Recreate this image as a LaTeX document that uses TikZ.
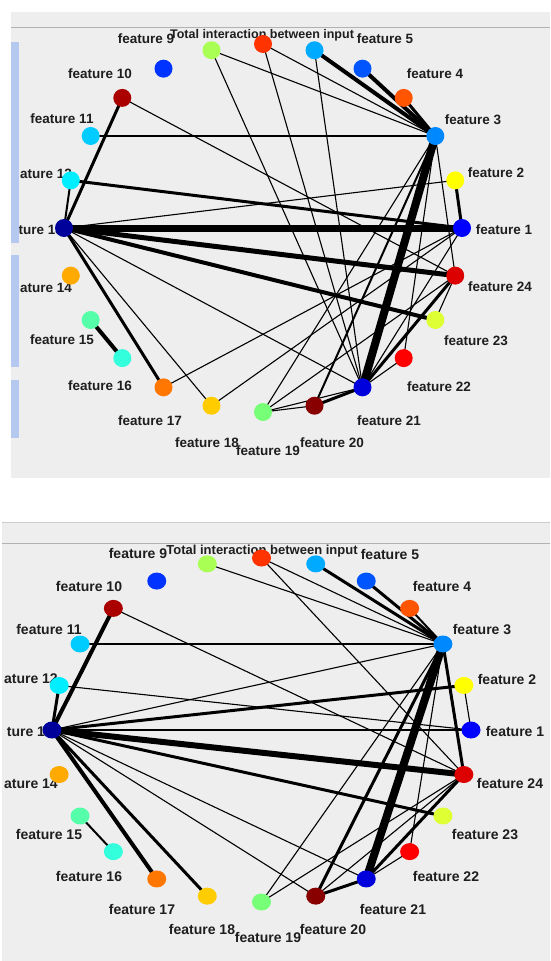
\documentclass[tikz,border=0pt]{standalone}
\usepackage{fontspec}
\setmainfont{Liberation Sans}
\usetikzlibrary{shapes.geometric}
\definecolor{c1}{HTML}{0000FF}
\definecolor{c2}{HTML}{FFFF00}
\definecolor{c3}{HTML}{0088FF}
\definecolor{c4}{HTML}{FF5500}
\definecolor{c5}{HTML}{0055FF}
\definecolor{c6}{HTML}{00AAFF}
\definecolor{c7}{HTML}{FF3300}
\definecolor{c8}{HTML}{AAFF55}
\definecolor{c9}{HTML}{0033FF}
\definecolor{c10}{HTML}{AA0000}
\definecolor{c11}{HTML}{00CCFF}
\definecolor{c12}{HTML}{00EEFF}
\definecolor{c13}{HTML}{00009A}
\definecolor{c14}{HTML}{FFAA00}
\definecolor{c15}{HTML}{55FFAA}
\definecolor{c16}{HTML}{33FFDD}
\definecolor{c17}{HTML}{FF7700}
\definecolor{c18}{HTML}{FFCC00}
\definecolor{c19}{HTML}{77FF77}
\definecolor{c20}{HTML}{880000}
\definecolor{c21}{HTML}{0000DD}
\definecolor{c22}{HTML}{FF0000}
\definecolor{c23}{HTML}{DDFF33}
\definecolor{c24}{HTML}{DD0000}
\definecolor{panelbg}{HTML}{EEEEEE}
\definecolor{barblue}{HTML}{B4C8F0}
\definecolor{txt}{HTML}{1E1E1E}
\begin{document}
\begin{tikzpicture}[x=1pt,y=-1pt,
  lbl/.style={text=txt,inner sep=0pt,anchor=base,font=\fontsize{13.5}{14}\selectfont\bfseries},
  lblb/.style={text=txt,inner sep=0pt,anchor=base,font=\fontsize{14}{15}\selectfont\bfseries},
  ttl/.style={text=txt,inner sep=0pt,anchor=base,font=\fontsize{12.5}{13}\selectfont\bfseries},
  ttlb/.style={text=txt,inner sep=0pt,anchor=base,font=\fontsize{13}{14}\selectfont\bfseries},
  dot/.style={circle,draw=none,minimum size=18pt,inner sep=0pt},
  bdot/.style={ellipse,draw=none,minimum width=19pt,minimum height=17pt,inner sep=0pt},
  e1/.style={line width=1.1pt},
  e2/.style={line width=2pt},
  e3/.style={line width=3pt},
  e4/.style={line width=4pt},
  e5/.style={line width=5pt},
  e6/.style={line width=6pt},
  e7/.style={line width=7pt},
  e8/.style={line width=8pt}]
\useasboundingbox (0,0) rectangle (550,961);
\fill[white] (0,0) rectangle (550,961);
% panels
\fill[panelbg] (11,12) rectangle (550,478);
\draw[gray!60,line width=1pt] (11,27) -- (550,27);
\fill[panelbg] (2,522) rectangle (550,961);
\draw[gray!40,line width=1pt] (2,522) -- (550,522);
\draw[gray!60,line width=1pt] (2,543) -- (550,543);
% ---------- top panel labels
\node[lbl] (ta9) at (146,43) {feature 9};
\node[ttl] (tatitle) at (262,38) {Total interaction between input};
\node[lbl] (ta5) at (385,43) {feature 5};
\node[lbl] (ta10) at (100,78) {feature 10};
\node[lbl] (ta4) at (435,78) {feature 4};
\node[lbl] (ta11) at (62,123) {feature 11};
\node[lbl] (ta3) at (473,124) {feature 3};
\node[lbl,anchor=base east] (ta12) at (72,178) {ature 12};
\node[lbl] (ta2) at (496,177) {feature 2};
\node[lbl,anchor=base east] (ta13) at (63,234) {ture 13};
\node[lbl] (ta1) at (504,234) {feature 1};
\node[lbl,anchor=base east] (ta14) at (72,292) {ature 14};
\node[lbl] (ta24) at (500,291) {feature 24};
\node[lbl] (ta15) at (62,344) {feature 15};
\node[lbl] (ta23) at (476,345) {feature 23};
\node[lbl] (ta16) at (100,390) {feature 16};
\node[lbl] (ta22) at (439,391) {feature 22};
\node[lbl] (ta17) at (150,425) {feature 17};
\node[lbl] (ta21) at (389,425) {feature 21};
\node[lbl] (ta18) at (207,447) {feature 18};
\node[lbl] (ta20) at (332,447) {feature 20};
\node[lbl] (ta19) at (268,455) {feature 19};
% blue bars
\fill[barblue] (11,42) rectangle (19,243);
\fill[barblue] (11,255) rectangle (19,367);
\fill[barblue] (11,380) rectangle (19,438);
% ---------- bottom panel labels
\node[lblb] (tb9) at (138,558) {feature 9};
\node[ttlb] (tbtitle) at (262,554) {Total interaction between input};
\node[lblb] (tb5) at (390,559) {feature 5};
\node[lblb] (tb10) at (89,591) {feature 10};
\node[lblb] (tb4) at (442,591) {feature 4};
\node[lblb] (tb11) at (49,634) {feature 11};
\node[lblb] (tb3) at (482,634) {feature 3};
\node[lblb,anchor=base east] (tb12) at (58,683) {ature 12};
\node[lblb] (tb2) at (507,684) {feature 2};
\node[lblb,anchor=base east] (tb13) at (53,736) {ture 13};
\node[lblb] (tb1) at (515,736) {feature 1};
\node[lblb,anchor=base east] (tb14) at (58,788) {ature 14};
\node[lblb] (tb24) at (510,788) {feature 24};
\node[lblb] (tb15) at (49,839) {feature 15};
\node[lblb] (tb23) at (485,839) {feature 23};
\node[lblb] (tb16) at (89,881) {feature 16};
\node[lblb] (tb22) at (446,881) {feature 22};
\node[lblb] (tb17) at (142,914) {feature 17};
\node[lblb] (tb21) at (393,914) {feature 21};
\node[lblb] (tb18) at (202,934) {feature 18};
\node[lblb] (tb20) at (333,934) {feature 20};
\node[lblb] (tb19) at (268,942) {feature 19};
% ---------- node positions
\foreach \k in {1,...,24}{
  \coordinate (a\k) at ({263+199*cos((\k-1)*15)},{228-184*sin((\k-1)*15)});
  \coordinate (b\k) at ({261.5+209.5*cos((\k-1)*15)},{730-172*sin((\k-1)*15)});
}
% ---------- top panel edges
\draw[e1] (a7) -- (a3);
\draw[e1] (a8) -- (a3);
\draw[e1] (a11) -- (a3);
\draw[e1] (a8) -- (a21);
\draw[e1] (a7) -- (a21);
\draw[e1] (a6) -- (a21);
\draw[e1] (a10) -- (a24);
\draw[e1] (a13) -- (a2);
\draw[e1] (a13) -- (a21);
\draw[e1] (a13) -- (a18);
\draw[e1] (a17) -- (a1);
\draw[e1] (a18) -- (a1);
\draw[e1] (a3) -- (a22);
\draw[e1] (a3) -- (a24);
\draw[e1] (a3) -- (a19);
\draw[e1] (a19) -- (a21);
\draw[e1] (a19) -- (a20);
\draw[e1] (a19) -- (a24);
\draw[e1] (a23) -- (a24);
\draw[e1] (a22) -- (a21);
\draw[e1] (a21) -- (a1);
\draw[e4] (a6) -- (a3);
\draw[e4] (a5) -- (a3);
\draw[e3] (a4) -- (a3);
\draw[e3] (a12) -- (a1);
\draw[e7] (a13) -- (a1);
\draw[e5] (a13) -- (a24);
\draw[e4] (a13) -- (a23);
\draw[e3] (a13) -- (a17);
\draw[e2] (a13) -- (a12);
\draw[e3] (a13) -- (a10);
\draw[e4] (a15) -- (a16);
\draw[e3] (a2) -- (a1);
\draw[e8] (a3) -- (a21);
\draw[e3] (a24) -- (a21);
\draw[e3] (a20) -- (a21);
\draw[e2] (a20) -- (a3);
% ---------- bottom panel edges
\draw[e1] (b7) -- (b3);
\draw[e1] (b8) -- (b3);
\draw[e1] (b11) -- (b3);
\draw[e1] (b13) -- (b3);
\draw[e1] (b7) -- (b24);
\draw[e1] (b10) -- (b24);
\draw[e1] (b12) -- (b1);
\draw[e1] (b13) -- (b21);
\draw[e1] (b13) -- (b20);
\draw[e1] (b2) -- (b1);
\draw[e1] (b3) -- (b22);
\draw[e1] (b3) -- (b19);
\draw[e1] (b19) -- (b24);
\draw[e1] (b20) -- (b24);
\draw[e1] (b21) -- (b22);
\draw[e3] (b6) -- (b3);
\draw[e3] (b5) -- (b3);
\draw[e2] (b4) -- (b3);
\draw[e3] (b13) -- (b2);
\draw[e2] (b13) -- (b1);
\draw[e6] (b13) -- (b24);
\draw[e3] (b13) -- (b23);
\draw[e3] (b13) -- (b18);
\draw[e4] (b13) -- (b17);
\draw[e3] (b13) -- (b12);
\draw[e4] (b13) -- (b10);
\draw[e2] (b15) -- (b16);
\draw[e8] (b3) -- (b21);
\draw[e3] (b3) -- (b20);
\draw[e3] (b3) -- (b24);
\draw[e3] (b20) -- (b21);
\draw[e3] (b21) -- (b24);
% ---------- nodes
\foreach \k in {1,...,24}{
  \node[dot,fill=c\k] (na\k) at (a\k) {};
  \node[bdot,fill=c\k] (nb\k) at (b\k) {};
}
\end{tikzpicture}
\end{document}
